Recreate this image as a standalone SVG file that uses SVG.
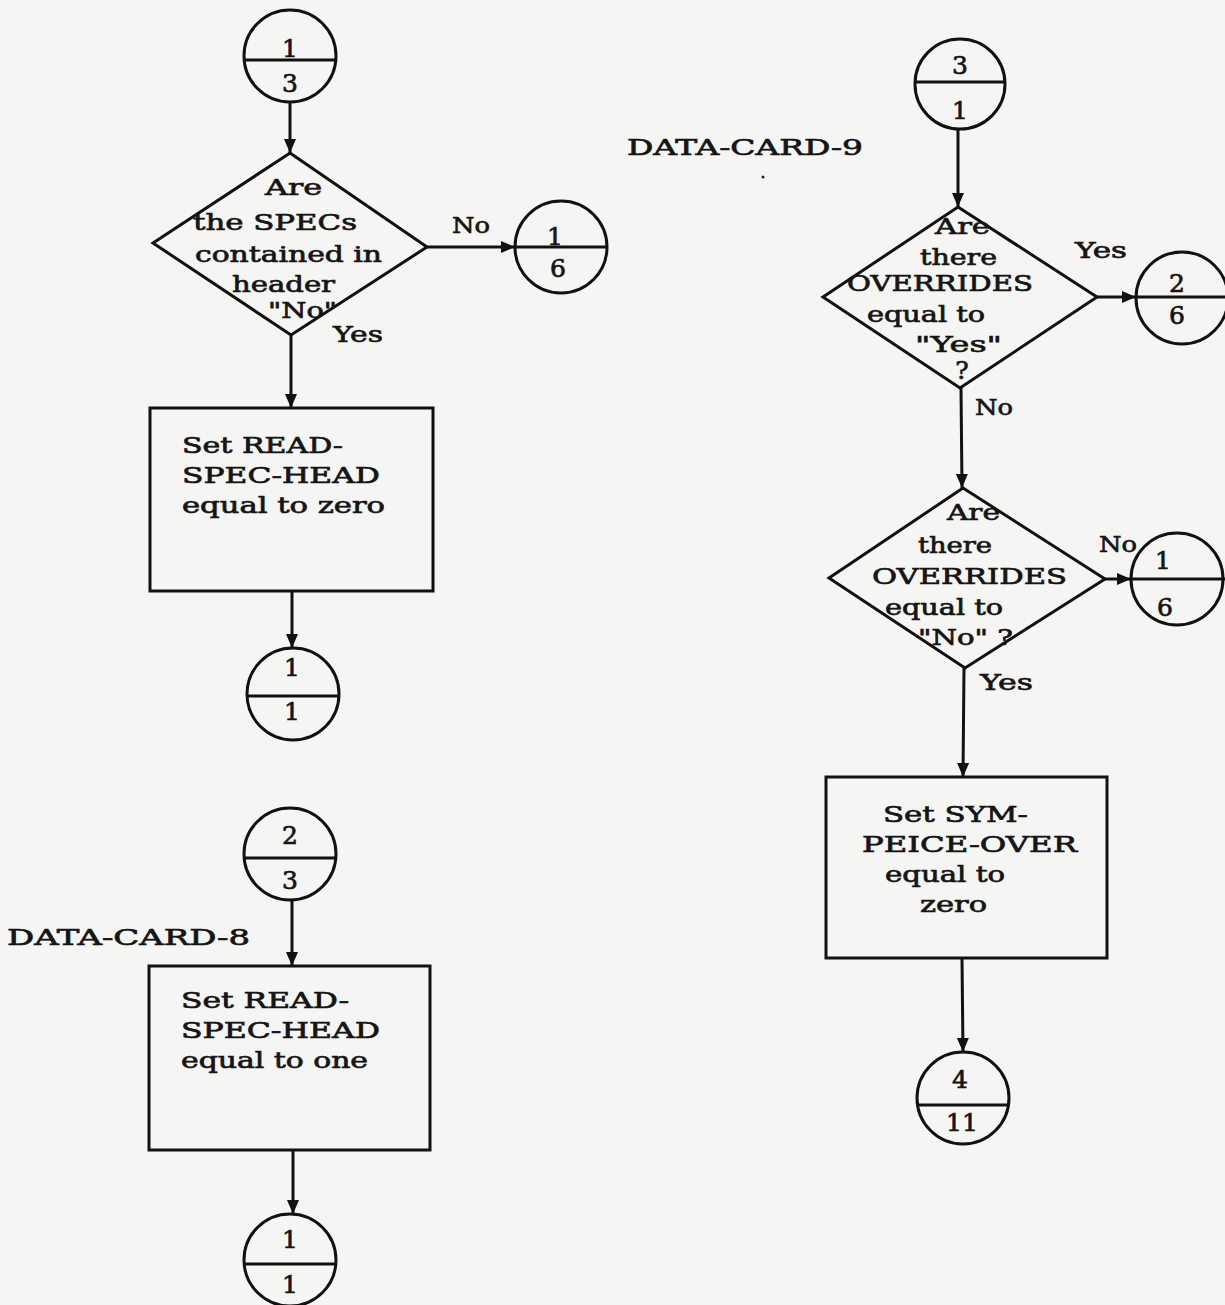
<svg xmlns="http://www.w3.org/2000/svg" width="1225" height="1305" viewBox="0 0 1225 1305">
<defs>
<style>
.bg{fill:#f5f5f3}
.s{fill:none;stroke:#111;stroke-width:3}
.c{stroke:#111;stroke-width:3;fill:none}
.t{font-family:"DejaVu Serif","Liberation Serif",serif;font-size:23px;fill:#151515;stroke:#151515;stroke-width:0.7}
.n{font-family:"DejaVu Serif","Liberation Serif",serif;font-size:25px;fill:#151515;stroke:#151515;stroke-width:0.7;text-anchor:middle}
</style>
<marker id="ah" markerUnits="userSpaceOnUse" markerWidth="14" markerHeight="16" viewBox="0 0 14 16" refX="14" refY="8" orient="auto">
<path d="M0,2 L14,8 L0,14 Z" fill="#111"/>
</marker>
</defs>
<rect class="bg" x="0" y="0" width="1225" height="1305"/>

<g id="c13">
<circle class="s" cx="290" cy="56" r="46"/>
<line class="s" x1="244" y1="60" x2="336" y2="60"/>
<text class="n" x="290" y="57">1</text>
<text class="n" x="290" y="92">3</text>
</g>

<g id="d1">
<polygon class="s" points="290,153 427,247 291,335 153,243"/>
<text class="t" x="265" y="195" textLength="57" lengthAdjust="spacingAndGlyphs">Are</text>
<text class="t" x="193" y="230" textLength="164" lengthAdjust="spacingAndGlyphs">the SPECs</text>
<text class="t" x="195" y="262" textLength="187" lengthAdjust="spacingAndGlyphs">contained in</text>
<text class="t" x="232" y="292" textLength="103" lengthAdjust="spacingAndGlyphs">header</text>
<text class="t" x="268" y="318" textLength="69" lengthAdjust="spacingAndGlyphs">"No"</text>
</g>

<g id="c16a">
<circle class="s" cx="561" cy="247" r="46"/>
<line class="s" x1="515" y1="247" x2="607" y2="247"/>
<text class="n" x="555" y="245">1</text>
<text class="n" x="558" y="277">6</text>
</g>

<g id="b1">
<rect class="s" x="150" y="408" width="283" height="183"/>
<text class="t" x="182" y="453" textLength="161" lengthAdjust="spacingAndGlyphs">Set READ-</text>
<text class="t" x="182" y="483" textLength="198" lengthAdjust="spacingAndGlyphs">SPEC-HEAD</text>
<text class="t" x="182" y="513" textLength="203" lengthAdjust="spacingAndGlyphs">equal to zero</text>
</g>

<g id="c11a">
<circle class="s" cx="293" cy="694" r="46"/>
<line class="s" x1="247" y1="696" x2="339" y2="696"/>
<text class="n" x="292" y="676">1</text>
<text class="n" x="292" y="720">1</text>
</g>

<g id="c23">
<circle class="s" cx="290" cy="854" r="46"/>
<line class="s" x1="244" y1="858" x2="336" y2="858"/>
<text class="n" x="290" y="844">2</text>
<text class="n" x="290" y="889">3</text>
</g>

<g id="lbl8">
<text class="t" x="7" y="945" textLength="243" lengthAdjust="spacingAndGlyphs">DATA-CARD-8</text>
</g>

<g id="b2">
<rect class="s" x="149" y="966" width="281" height="184"/>
<text class="t" x="181" y="1008" textLength="168" lengthAdjust="spacingAndGlyphs">Set READ-</text>
<text class="t" x="181" y="1038" textLength="199" lengthAdjust="spacingAndGlyphs">SPEC-HEAD</text>
<text class="t" x="181" y="1068" textLength="187" lengthAdjust="spacingAndGlyphs">equal to one</text>
</g>

<g id="c11b">
<circle class="s" cx="290" cy="1260" r="46"/>
<line class="s" x1="244" y1="1264" x2="336" y2="1264"/>
<text class="n" x="290" y="1248">1</text>
<text class="n" x="290" y="1293">1</text>
</g>

<g id="c31">
<circle class="s" cx="960" cy="84" r="45"/>
<line class="s" x1="915" y1="82" x2="1005" y2="82"/>
<text class="n" x="960" y="74">3</text>
<text class="n" x="960" y="119">1</text>
</g>

<g id="lbl9">
<text class="t" x="627" y="155" textLength="236" lengthAdjust="spacingAndGlyphs">DATA-CARD-9</text>
<circle cx="763" cy="177" r="1.5" fill="#222"/>
</g>

<g id="d2">
<polygon class="s" points="958,207 1097,297 960,388 823,297"/>
<text class="t" x="935" y="234" textLength="55" lengthAdjust="spacingAndGlyphs">Are</text>
<text class="t" x="920" y="265" textLength="77" lengthAdjust="spacingAndGlyphs">there</text>
<text class="t" x="847" y="291" textLength="186" lengthAdjust="spacingAndGlyphs">OVERRIDES</text>
<text class="t" x="867" y="322" textLength="118" lengthAdjust="spacingAndGlyphs">equal to</text>
<text class="t" x="915" y="352" textLength="87" lengthAdjust="spacingAndGlyphs">"Yes"</text>
<text class="n" x="962" y="379">?</text>
</g>

<g id="c26">
<circle class="s" cx="1182" cy="298" r="46"/>
<line class="s" x1="1136" y1="297" x2="1228" y2="297"/>
<text class="n" x="1177" y="292">2</text>
<text class="n" x="1177" y="324">6</text>
</g>

<g id="d3">
<polygon class="s" points="963,488 1105,579 965,668 829,578"/>
<text class="t" x="947" y="520" textLength="53" lengthAdjust="spacingAndGlyphs">Are</text>
<text class="t" x="918" y="553" textLength="74" lengthAdjust="spacingAndGlyphs">there</text>
<text class="t" x="872" y="584" textLength="195" lengthAdjust="spacingAndGlyphs">OVERRIDES</text>
<text class="t" x="885" y="615" textLength="118" lengthAdjust="spacingAndGlyphs">equal to</text>
<text class="t" x="918" y="645" textLength="95" lengthAdjust="spacingAndGlyphs">"No" ?</text>
</g>

<g id="c16b">
<circle class="s" cx="1177" cy="579" r="46"/>
<line class="s" x1="1131" y1="579" x2="1228" y2="579"/>
<text class="n" x="1163" y="569">1</text>
<text class="n" x="1165" y="616">6</text>
</g>

<g id="b3">
<rect class="s" x="826" y="777" width="281" height="181"/>
<text class="t" x="883" y="822" textLength="145" lengthAdjust="spacingAndGlyphs">Set SYM-</text>
<text class="t" x="862" y="852" textLength="215" lengthAdjust="spacingAndGlyphs">PEICE-OVER</text>
<text class="t" x="885" y="882" textLength="120" lengthAdjust="spacingAndGlyphs">equal to</text>
<text class="t" x="920" y="912" textLength="67" lengthAdjust="spacingAndGlyphs">zero</text>
</g>

<g id="c411">
<circle class="s" cx="963" cy="1098" r="46"/>
<line class="s" x1="917" y1="1105" x2="1009" y2="1105"/>
<text class="n" x="960" y="1088">4</text>
<text class="n" x="962" y="1131">11</text>
</g>

<g id="connectors">
<line class="c" x1="290" y1="102" x2="290" y2="153" marker-end="url(#ah)"/>
<line class="c" x1="427" y1="247" x2="515" y2="247" marker-end="url(#ah)"/>
<line class="c" x1="291" y1="335" x2="291" y2="408" marker-end="url(#ah)"/>
<line class="c" x1="292" y1="591" x2="292" y2="648" marker-end="url(#ah)"/>
<line class="c" x1="292" y1="900" x2="292" y2="966" marker-end="url(#ah)"/>
<line class="c" x1="293" y1="1150" x2="293" y2="1214" marker-end="url(#ah)"/>
<line class="c" x1="958" y1="129" x2="958" y2="207" marker-end="url(#ah)"/>
<line class="c" x1="1097" y1="297" x2="1136" y2="297" marker-end="url(#ah)"/>
<line class="c" x1="961" y1="388" x2="962" y2="488" marker-end="url(#ah)"/>
<line class="c" x1="1105" y1="579" x2="1131" y2="579" marker-end="url(#ah)"/>
<line class="c" x1="964" y1="668" x2="963" y2="777" marker-end="url(#ah)"/>
<line class="c" x1="962" y1="958" x2="963" y2="1052" marker-end="url(#ah)"/>
<text class="t" x="452" y="233" textLength="38" lengthAdjust="spacingAndGlyphs">No</text>
<text class="t" x="333" y="342" textLength="50" lengthAdjust="spacingAndGlyphs">Yes</text>
<text class="t" x="1075" y="258" textLength="52" lengthAdjust="spacingAndGlyphs">Yes</text>
<text class="t" x="975" y="415" textLength="38" lengthAdjust="spacingAndGlyphs">No</text>
<text class="t" x="1099" y="552" textLength="38" lengthAdjust="spacingAndGlyphs">No</text>
<text class="t" x="980" y="690" textLength="53" lengthAdjust="spacingAndGlyphs">Yes</text>
</g>
</svg>
